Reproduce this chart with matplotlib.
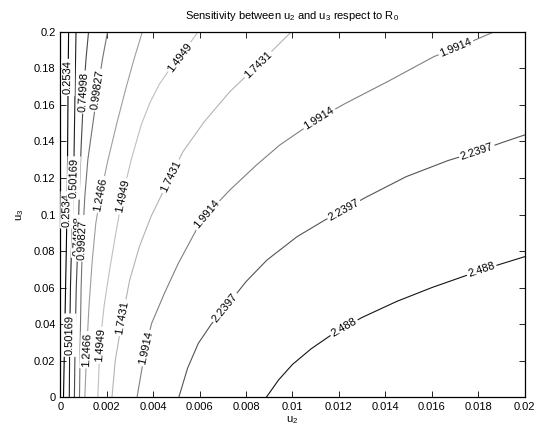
import numpy as np
import matplotlib
matplotlib.use("Agg")
import matplotlib.pyplot as plt

# ---------------- data ----------------
levels = [0.2534, 0.50169, 0.74998, 0.99827, 1.2466, 1.4949, 1.7431, 1.9914, 2.2397, 2.488]

# contour lines: (u2, u3) points along each level curve
l1_u2 = [0.00013, 0.00016, 0.00019, 0.00022, 0.00025, 0.00028, 0.00030, 0.00031, 0.00033, 0.00035]
l1_u3 = [0.0, 0.02, 0.04, 0.06, 0.08, 0.1025, 0.12, 0.14, 0.175, 0.2]
l2_u2 = [0.00038, 0.00040, 0.00043, 0.00047, 0.00052, 0.00057, 0.00060, 0.00063, 0.00067]
l2_u3 = [0.0, 0.034, 0.06, 0.08, 0.10, 0.12, 0.145, 0.17, 0.2]
l3_u2 = [0.00060, 0.00063, 0.00068, 0.00076, 0.00082, 0.00090, 0.00100, 0.00110, 0.00121]
l3_u3 = [0.0, 0.03, 0.06, 0.088, 0.115, 0.14, 0.167, 0.185, 0.2]
l4_u2 = [0.00082, 0.00085, 0.00089, 0.00095, 0.00105, 0.00118, 0.00140, 0.00160, 0.00181, 0.00203]
l4_u3 = [0.0, 0.03, 0.06, 0.086, 0.11, 0.13, 0.15, 0.168, 0.185, 0.2]
l5_u2 = [0.00105, 0.00113, 0.00123, 0.00137, 0.00152, 0.00173, 0.00205, 0.00243, 0.00284, 0.00317, 0.00353]
l5_u3 = [0.0, 0.026, 0.05, 0.075, 0.095, 0.111, 0.13, 0.15, 0.17, 0.185, 0.2]
l6_u2 = [0.00161, 0.00170, 0.00188, 0.00212, 0.00239, 0.00267, 0.00305, 0.00348, 0.00385, 0.00425, 0.00468, 0.00515, 0.00593]
l6_u3 = [0.0, 0.0285, 0.05, 0.07, 0.09, 0.11, 0.13, 0.149, 0.161, 0.171, 0.179, 0.186, 0.2]
l7_u2 = [0.00222, 0.00236, 0.00267, 0.00298, 0.00340, 0.00390, 0.00475, 0.00528, 0.00620, 0.00730, 0.00852, 0.00996]
l7_u3 = [0.0, 0.02, 0.0435, 0.064, 0.0824, 0.0988, 0.121, 0.1344, 0.1508, 0.1672, 0.182, 0.2]
l8_u2 = [0.00330, 0.00355, 0.00366, 0.00393, 0.00448, 0.00508, 0.00585, 0.00630, 0.00730, 0.00845,
         0.00945, 0.01114, 0.01230, 0.01410, 0.01610, 0.01705, 0.01870]
l8_u3 = [0.0, 0.0186, 0.027, 0.0405, 0.0569, 0.0733, 0.0915, 0.100, 0.1134, 0.1271,
         0.138, 0.1527, 0.1609, 0.1727, 0.1864, 0.191, 0.2]
l9_u2 = [0.00510, 0.00548, 0.00594, 0.00650, 0.00710, 0.00800, 0.00890, 0.01020, 0.01140, 0.01222, 0.01310, 0.01490,
         0.01670, 0.01795, 0.01900, 0.02000]
l9_u3 = [0.0, 0.016, 0.0295, 0.0400, 0.0490, 0.0633, 0.0751, 0.0879, 0.097, 0.1025, 0.109, 0.1207,
         0.1295, 0.1344, 0.1392, 0.1435]
l10_u2 = [0.00887, 0.0094, 0.0100, 0.0108, 0.0116, 0.01222, 0.0130, 0.0145, 0.0160, 0.0175, 0.01815, 0.0188, 0.0200]
l10_u3 = [0.0, 0.0095, 0.018, 0.0265, 0.0335, 0.0382, 0.0437, 0.0525, 0.060, 0.0667, 0.0696, 0.0722, 0.0769]

# which point of each curve carries an inline label
label_points = [[5, 8], [1, 5], [3, 6], [3, 7], [1, 5], [1, 5, 11], [2, 6, 10], [2, 7, 11, 15], [4, 9, 13], [5, 10]]

x_ticks = [0, 0.002, 0.004, 0.006, 0.008, 0.01, 0.012, 0.014, 0.016, 0.018, 0.02]
x_tick_labels = ["0", "0.002", "0.004", "0.006", "0.008", "0.01", "0.012", "0.014", "0.016", "0.018", "0.02"]
y_ticks = [0, 0.02, 0.04, 0.06, 0.08, 0.1, 0.12, 0.14, 0.16, 0.18, 0.2]
y_tick_labels = ["0", "0.02", "0.04", "0.06", "0.08", "0.1", "0.12", "0.14", "0.16", "0.18", "0.2"]

curves = [(l1_u2, l1_u3), (l2_u2, l2_u3), (l3_u2, l3_u3), (l4_u2, l4_u3), (l5_u2, l5_u3),
          (l6_u2, l6_u3), (l7_u2, l7_u3), (l8_u2, l8_u3), (l9_u2, l9_u3), (l10_u2, l10_u3)]

# ---------------- style ----------------
plt.rcParams["font.family"] = ["Liberation Sans", "DejaVu Sans"]
plt.rcParams["mathtext.fontset"] = "custom"
plt.rcParams["mathtext.rm"] = "Liberation Sans"
plt.rcParams["mathtext.it"] = "Liberation Sans:italic"
plt.rcParams["mathtext.default"] = "regular"

line_grays = [0.0, 0.12, 0.28, 0.45, 0.62, 0.75, 0.70, 0.50, 0.33, 0.08]
FS = 8

fig = plt.figure(figsize=(5.39, 4.33), dpi=100)
ax = fig.add_axes([0.1122, 0.0824, 0.8609, 0.8444])
ax.set_xlim(0, 0.02)
ax.set_ylim(0, 0.2)

for (u2, u3), g in zip(curves, line_grays):
    ax.plot(u2, u3, color=(g, g, g), lw=0.8, solid_joinstyle="round", zorder=2)

fig.canvas.draw()
for (u2, u3), lev, idxs in zip(curves, levels, label_points):
    for i in idxs:
        a = max(i - 1, 0)
        b = min(i + 1, len(u2) - 1)
        p0 = ax.transData.transform((u2[a], u3[a]))
        p1 = ax.transData.transform((u2[b], u3[b]))
        ang = np.degrees(np.arctan2(p1[1] - p0[1], p1[0] - p0[0]))
        if ang > 90:
            ang -= 180
        elif ang <= -90:
            ang += 180
        ax.text(u2[i], u3[i], "%.5g" % lev, rotation=ang, rotation_mode="anchor",
                ha="center", va="center", fontsize=FS, color="black", zorder=3,
                bbox=dict(boxstyle="square,pad=0.15", fc="white", ec="none"))

ax.set_xticks(x_ticks)
ax.set_xticklabels(x_tick_labels)
ax.set_yticks(y_ticks)
ax.set_yticklabels(y_tick_labels)
ax.tick_params(direction="in", length=4.5, width=0.6, top=True, right=True,
               labelsize=FS, pad=3.5)
for s in ax.spines.values():
    s.set_linewidth(0.9)

ax.set_title("Sensitivity between u$_2$ and u$_3$ respect to R$_0$", fontsize=FS, pad=9)
ax.set_xlabel("u$_2$", fontsize=FS, labelpad=1.5)
ax.set_ylabel("u$_3$", fontsize=FS, labelpad=6)

fig.savefig("out.png", dpi=100)
